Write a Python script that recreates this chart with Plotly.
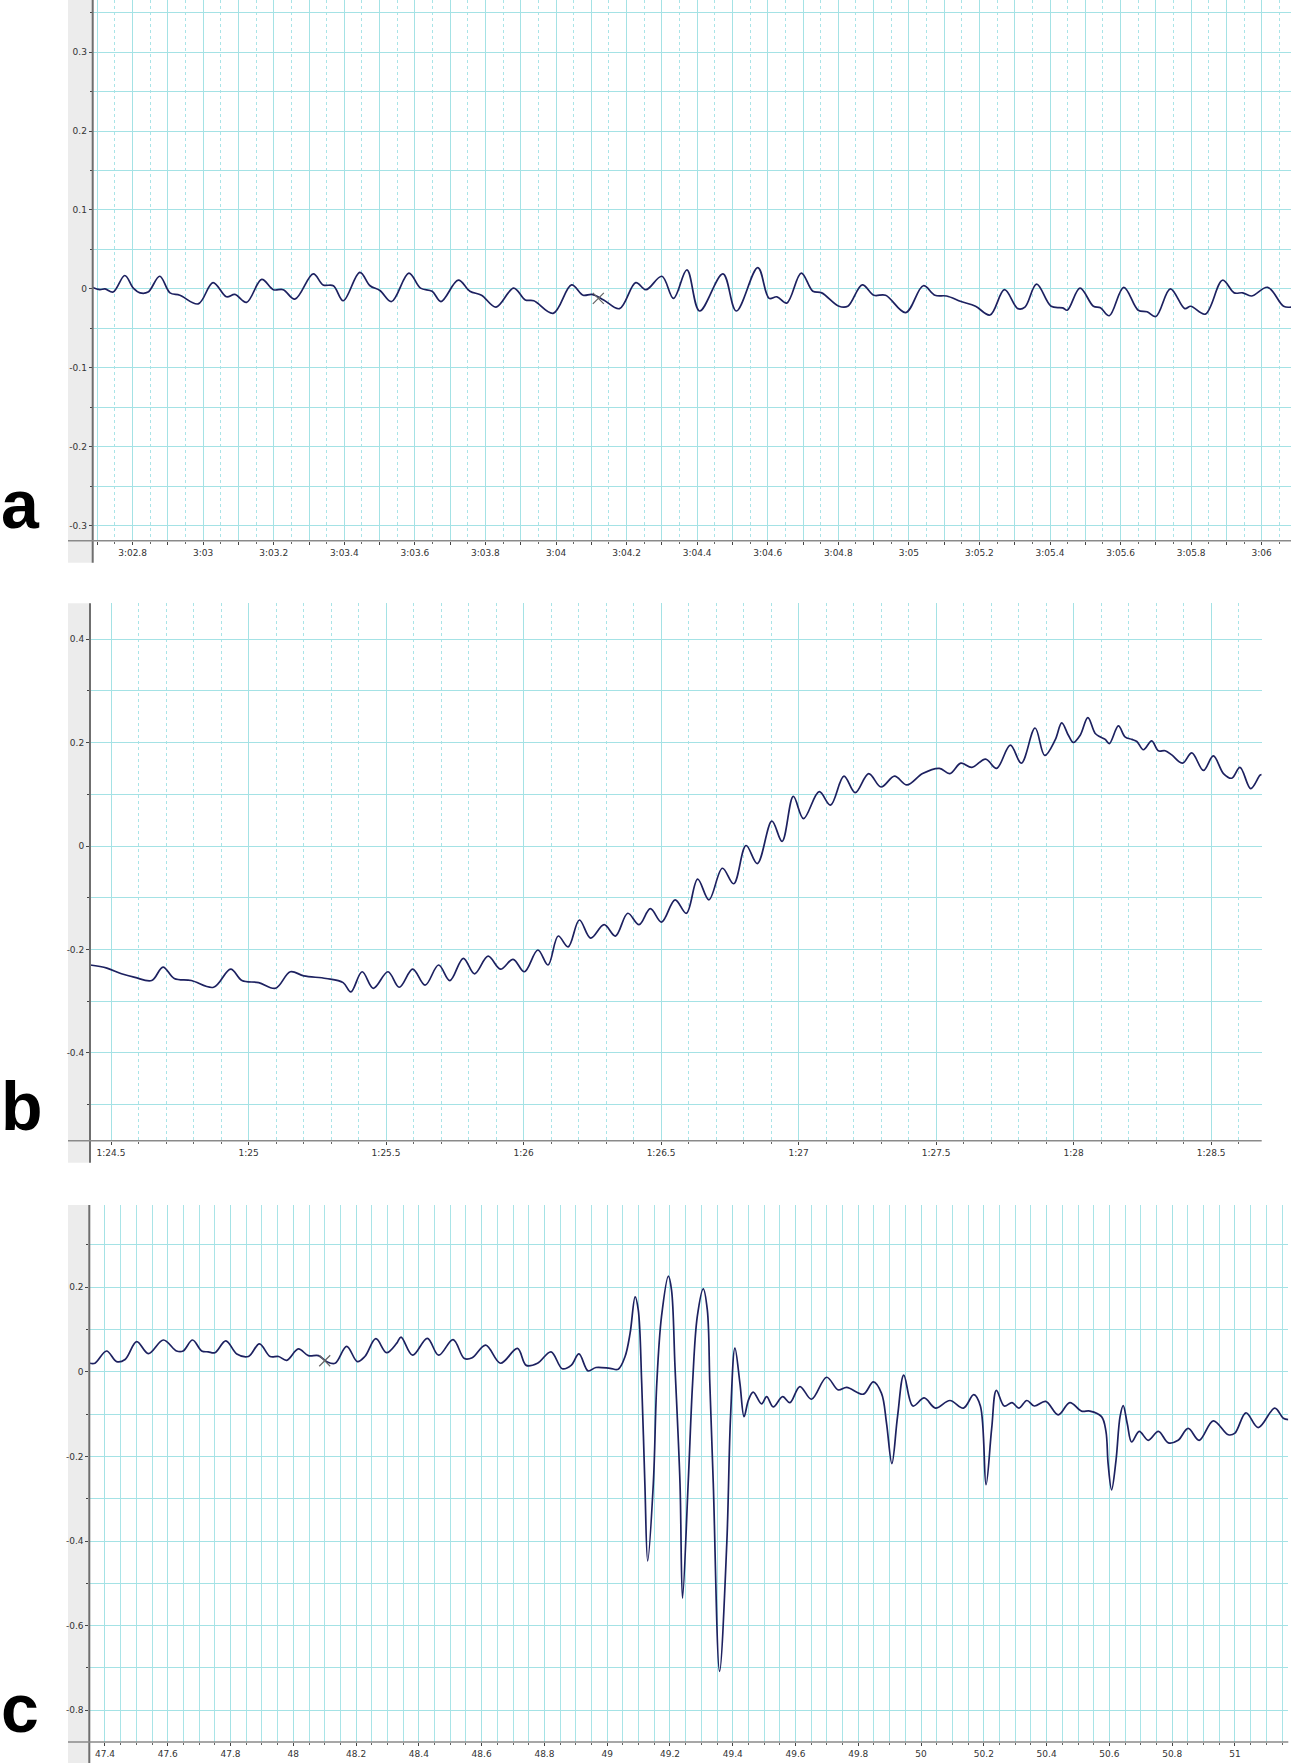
import plotly.graph_objects as go

W, H = 1291, 1763

# ---------------- data (time in seconds, amplitude) ----------------
a_time = [182.686, 182.707, 182.722, 182.745, 182.778, 182.802, 182.821, 182.844, 182.877, 182.906,
          182.934, 182.986, 183.028, 183.066, 183.090, 183.123, 183.166, 183.199, 183.227, 183.260,
          183.312, 183.340, 183.369, 183.397, 183.444, 183.473, 183.501, 183.534, 183.583, 183.616,
          183.649, 183.674, 183.723, 183.756, 183.789, 183.830, 183.880, 183.913, 183.937, 183.992,
          184.044, 184.077, 184.102, 184.135, 184.180, 184.226, 184.255, 184.300, 184.333, 184.371,
          184.407, 184.473, 184.511, 184.572, 184.604, 184.626, 184.654, 184.695, 184.728, 184.753,
          184.802, 184.827, 184.868, 184.901, 184.934, 184.991, 185.041, 185.074, 185.107, 185.148,
          185.189, 185.230, 185.271, 185.309, 185.329, 185.362, 185.403, 185.436, 185.449, 185.485,
          185.523, 185.543, 185.568, 185.609, 185.650, 185.675, 185.700, 185.741, 185.782, 185.799,
          185.840, 185.889, 185.922, 185.946, 185.971, 186.017, 186.062, 186.083]
a_value = [0.002, -0.001, 0.000, -0.004, 0.017, 0.001, -0.005, -0.004, 0.016, -0.005,
           -0.008, -0.019, 0.008, -0.010, -0.007, -0.017, 0.012, -0.001, -0.001, -0.013,
           0.019, 0.005, 0.004, -0.015, 0.021, 0.004, -0.002, -0.016, 0.020, 0.001,
           -0.003, -0.016, 0.011, -0.003, -0.008, -0.023, 0.001, -0.014, -0.015, -0.031,
           0.005, -0.008, -0.007, -0.014, -0.025, 0.008, -0.001, 0.016, -0.012, 0.024,
           -0.028, 0.019, -0.028, 0.027, -0.012, -0.010, -0.018, 0.020, -0.003, -0.005,
           -0.022, -0.022, 0.005, -0.008, -0.008, -0.030, 0.004, -0.008, -0.009, -0.016,
           -0.022, -0.033, -0.001, -0.025, -0.023, 0.006, -0.022, -0.024, -0.027, 0.001,
           -0.022, -0.024, -0.034, 0.002, -0.027, -0.029, -0.035, 0.000, -0.025, -0.022,
           -0.032, 0.011, -0.005, -0.005, -0.009, 0.002, -0.022, -0.023]
a_mark_time = [184.12]
a_mark_value = [-0.012]

b_time = [84.424, 84.485, 84.538, 84.587, 84.648, 84.689, 84.730, 84.792, 84.873, 84.935,
          84.976, 85.037, 85.098, 85.152, 85.201, 85.282, 85.344, 85.372, 85.413, 85.454,
          85.507, 85.548, 85.597, 85.642, 85.691, 85.732, 85.781, 85.822, 85.871, 85.916,
          85.962, 86.003, 86.052, 86.089, 86.126, 86.162, 86.203, 86.244, 86.293, 86.334,
          86.379, 86.420, 86.461, 86.502, 86.551, 86.592, 86.633, 86.674, 86.723, 86.764,
          86.809, 86.850, 86.903, 86.940, 86.981, 87.018, 87.075, 87.116, 87.165, 87.206,
          87.255, 87.300, 87.349, 87.394, 87.451, 87.512, 87.550, 87.590, 87.630, 87.680,
          87.720, 87.770, 87.810, 87.860, 87.895, 87.933, 87.957, 87.981, 87.999, 88.024,
          88.052, 88.078, 88.096, 88.115, 88.130, 88.163, 88.187, 88.212, 88.230, 88.254,
          88.284, 88.308, 88.333, 88.357, 88.396, 88.430, 88.472, 88.508, 88.545, 88.575,
          88.605, 88.644, 88.678, 88.684]
b_value = [-0.230, -0.236, -0.247, -0.254, -0.260, -0.234, -0.256, -0.260, -0.273, -0.238,
           -0.260, -0.264, -0.275, -0.243, -0.251, -0.256, -0.264, -0.282, -0.243, -0.275,
           -0.243, -0.273, -0.238, -0.269, -0.230, -0.260, -0.217, -0.247, -0.213, -0.238,
           -0.219, -0.243, -0.201, -0.230, -0.174, -0.195, -0.143, -0.178, -0.152, -0.174,
           -0.130, -0.152, -0.121, -0.147, -0.104, -0.130, -0.064, -0.104, -0.043, -0.073,
           0.001, -0.034, 0.048, 0.009, 0.096, 0.053, 0.105, 0.079, 0.135, 0.103,
           0.140, 0.114, 0.135, 0.118, 0.140, 0.150, 0.140, 0.160, 0.152, 0.168,
           0.150, 0.195, 0.160, 0.228, 0.175, 0.205, 0.238, 0.214, 0.200, 0.214,
           0.248, 0.218, 0.211, 0.206, 0.198, 0.232, 0.211, 0.206, 0.202, 0.186,
           0.203, 0.184, 0.184, 0.176, 0.160, 0.180, 0.146, 0.174, 0.140, 0.131,
           0.152, 0.111, 0.137, 0.138]

c_time = [47.352, 47.368, 47.405, 47.437, 47.464, 47.501, 47.538, 47.586, 47.628, 47.649,
          47.679, 47.708, 47.729, 47.750, 47.785, 47.820, 47.857, 47.892, 47.926, 47.953,
          47.979, 48.016, 48.048, 48.080, 48.106, 48.133, 48.170, 48.204, 48.228, 48.263,
          48.297, 48.329, 48.343, 48.380, 48.427, 48.463, 48.509, 48.545, 48.570, 48.613,
          48.660, 48.714, 48.742, 48.778, 48.821, 48.857, 48.885, 48.910, 48.939, 48.964,
          49.009, 49.035, 49.057, 49.073, 49.089, 49.099, 49.110, 49.120, 49.129, 49.147,
          49.158, 49.173, 49.195, 49.205, 49.216, 49.232, 49.240, 49.258, 49.272, 49.287,
          49.306, 49.319, 49.327, 49.338, 49.358, 49.381, 49.393, 49.407, 49.423, 49.436,
          49.450, 49.465, 49.492, 49.508, 49.529, 49.559, 49.582, 49.614, 49.651, 49.699,
          49.736, 49.763, 49.816, 49.848, 49.874, 49.890, 49.907, 49.925, 49.945, 49.974,
          50.010, 50.046, 50.092, 50.135, 50.168, 50.189, 50.207, 50.225, 50.240, 50.265,
          50.290, 50.312, 50.337, 50.361, 50.397, 50.437, 50.474, 50.511, 50.538, 50.575,
          50.589, 50.596, 50.607, 50.621, 50.634, 50.644, 50.657, 50.671, 50.695, 50.724,
          50.756, 50.788, 50.819, 50.851, 50.886, 50.931, 50.979, 51.000, 51.035, 51.074,
          51.127, 51.154, 51.170]
c_value = [0.020, 0.020, 0.049, 0.024, 0.029, 0.071, 0.043, 0.075, 0.049, 0.049,
           0.075, 0.049, 0.047, 0.045, 0.073, 0.042, 0.036, 0.066, 0.036, 0.036,
           0.027, 0.054, 0.038, 0.038, 0.024, 0.020, 0.060, 0.024, 0.036, 0.078,
           0.045, 0.067, 0.082, 0.039, 0.079, 0.039, 0.076, 0.031, 0.033, 0.063,
           0.020, 0.055, 0.015, 0.020, 0.047, 0.007, 0.015, 0.042, 0.002, 0.010,
           0.008, 0.006, 0.036, 0.091, 0.177, 0.146, -0.028, -0.264, -0.447, -0.264,
           -0.028, 0.130, 0.226, 0.193, 0.012, -0.264, -0.535, -0.264, -0.028, 0.130,
           0.196, 0.146, -0.028, -0.264, -0.708, -0.406, -0.106, 0.056, -0.028, -0.106,
           -0.067, -0.048, -0.076, -0.059, -0.083, -0.059, -0.073, -0.035, -0.065, -0.013,
           -0.043, -0.037, -0.053, -0.024, -0.051, -0.122, -0.217, -0.106, -0.008, -0.081,
           -0.062, -0.086, -0.068, -0.086, -0.054, -0.081, -0.267, -0.134, -0.044, -0.081,
           -0.073, -0.086, -0.068, -0.081, -0.070, -0.102, -0.073, -0.093, -0.093, -0.106,
           -0.141, -0.218, -0.279, -0.210, -0.106, -0.080, -0.123, -0.166, -0.141, -0.162,
           -0.141, -0.168, -0.162, -0.134, -0.162, -0.116, -0.149, -0.145, -0.097, -0.132,
           -0.086, -0.110, -0.113]
c_mark_time = [48.10]
c_mark_value = [0.026]

# ---------------- tick labels ----------------
a_xtick_vals = [182.7, 182.8, 182.9, 183.0, 183.1, 183.2, 183.3, 183.4, 183.5, 183.6, 183.7,
                183.8, 183.9, 184.0, 184.1, 184.2, 184.3, 184.4, 184.5, 184.6, 184.7, 184.8,
                184.9, 185.0, 185.1, 185.2, 185.3, 185.4, 185.5, 185.6, 185.7, 185.8, 185.9,
                186.0]
a_xtick_text = ["", "3:02.8", "", "3:03", "", "3:03.2", "", "3:03.4", "", "3:03.6", "",
                "3:03.8", "", "3:04", "", "3:04.2", "", "3:04.4", "", "3:04.6", "", "3:04.8",
                "", "3:05", "", "3:05.2", "", "3:05.4", "", "3:05.6", "", "3:05.8", "",
                "3:06"]
a_ytick_vals = [-0.3, -0.2, -0.1, 0, 0.1, 0.2, 0.3]
a_ytick_text = ["-0.3", "-0.2", "-0.1", "0", "0.1", "0.2", "0.3"]

b_xtick_vals = [84.5, 85.0, 85.5, 86.0, 86.5, 87.0, 87.5, 88.0, 88.5]
b_xtick_text = ["1:24.5", "1:25", "1:25.5", "1:26", "1:26.5", "1:27", "1:27.5", "1:28", "1:28.5"]
b_ytick_vals = [-0.4, -0.2, 0, 0.2, 0.4]
b_ytick_text = ["-0.4", "-0.2", "0", "0.2", "0.4"]

c_xtick_vals = [47.4, 47.6, 47.8, 48.0, 48.2, 48.4, 48.6, 48.8, 49.0, 49.2,
                49.4, 49.6, 49.8, 50.0, 50.2, 50.4, 50.6, 50.8, 51.0]
c_xtick_text = ["47.4", "47.6", "47.8", "48", "48.2", "48.4", "48.6", "48.8", "49", "49.2",
                "49.4", "49.6", "49.8", "50", "50.2", "50.4", "50.6", "50.8", "51"]
c_ytick_vals = [-0.8, -0.6, -0.4, -0.2, 0, 0.2]
c_ytick_text = ["-0.8", "-0.6", "-0.4", "-0.2", "0", "0.2"]

# ---------------- styling / layout ----------------
GRID = "#a4e2e5"
GRID_MINOR = "#a9e4e7"
TRACE = "#1d2160"
TICKFONT = dict(family="DejaVu Sans", size=9, color="#333333")
STRIP = "#ececec"


def steps(start, step, n, skip=()):
    vals = [round(start + step * i, 4) for i in range(n)]
    return [v for v in vals if all(abs(v - s) > 1e-6 for s in skip)]


panels = [
    dict(x0=92.7, x1=1291, top=0, bottom=540.7, strip_bottom=562.7,
         xr=[182.687, 186.083], yr=[-0.319, 0.366],
         xt=(a_xtick_vals, a_xtick_text), yt=(a_ytick_vals, a_ytick_text),
         xminor=steps(182.65, 0.1, 35, a_xtick_vals),
         yminor=steps(-0.30, 0.05, 14, a_ytick_vals), xdash="dot"),
    dict(x0=90, x1=1261.7, top=603.3, bottom=1140.7, strip_bottom=1162.7,
         xr=[84.4236, 88.684], yr=[-0.5695, 0.469],
         xt=(b_xtick_vals, b_xtick_text), yt=(b_ytick_vals, b_ytick_text),
         xminor=steps(84.5, 0.1, 43, b_xtick_vals),
         yminor=steps(-0.5, 0.1, 10, b_ytick_vals), xdash="dot"),
    dict(x0=89.3, x1=1288.3, top=1205, bottom=1742, strip_bottom=1763,
         xr=[47.35, 51.17], yr=[-0.875, 0.394],
         xt=(c_xtick_vals, c_xtick_text), yt=(c_ytick_vals, c_ytick_text),
         xminor=steps(47.35, 0.05, 78, c_xtick_vals),
         yminor=steps(-0.8, 0.1, 12, c_ytick_vals), xdash="solid"),
]

series = [
    (a_time, a_value, a_mark_time, a_mark_value),
    (b_time, b_value, None, None),
    (c_time, c_value, c_mark_time, c_mark_value),
]

fig = go.Figure()
layout = dict(
    width=W, height=H, margin=dict(l=0, r=0, t=0, b=0, autoexpand=False),
    paper_bgcolor="white", plot_bgcolor="white", showlegend=False, hovermode=False,
)
shapes = []


def px(x):
    return x / W


def py(y):
    return 1 - y / H


for i, (p, (t, v, mt, mv)) in enumerate(zip(panels, series), start=1):
    xa = "xaxis" if i == 1 else f"xaxis{i}"
    ya = "yaxis" if i == 1 else f"yaxis{i}"
    xref = "x" if i == 1 else f"x{i}"
    yref = "y" if i == 1 else f"y{i}"
    layout[xa] = dict(
        domain=[px(p["x0"]), px(p["x1"])], range=p["xr"], anchor=yref,
        tickmode="array", tickvals=p["xt"][0], ticktext=p["xt"][1],
        ticks="outside", ticklen=3, tickcolor="#444", tickwidth=1,
        tickfont=TICKFONT, showgrid=True, gridcolor=GRID, gridwidth=1,
        zeroline=False, showline=False, fixedrange=True, automargin=False,
        showspikes=False,
        minor=dict(tickmode="array", tickvals=p["xminor"], showgrid=True,
                   gridcolor=GRID_MINOR, gridwidth=1, griddash=p["xdash"],
                   ticks="outside", ticklen=2, tickcolor="#666"),
    )
    layout[ya] = dict(
        domain=[py(p["bottom"]), py(p["top"])], range=p["yr"], anchor=xref,
        tickmode="array", tickvals=p["yt"][0], ticktext=p["yt"][1],
        ticks="outside", ticklen=3, tickcolor="#444", tickwidth=1,
        tickfont=TICKFONT, showgrid=True, gridcolor=GRID, gridwidth=1,
        zeroline=False, showline=False, fixedrange=True, automargin=False,
        showspikes=False,
        minor=dict(tickmode="array", tickvals=p["yminor"], showgrid=True,
                   gridcolor=GRID, gridwidth=1, ticks="outside", ticklen=2,
                   tickcolor="#444"),
    )
    fig.add_trace(go.Scatter(
        x=t, y=v, xaxis=xref, yaxis=yref, mode="lines",
        line=dict(color=TRACE, width=1.7, shape="spline", smoothing=1.0, simplify=False),
        hoverinfo="skip"))
    if mt is not None:
        fig.add_trace(go.Scatter(
            x=mt, y=mv, xaxis=xref, yaxis=yref, mode="markers",
            marker=dict(symbol="x-thin", size=11, line=dict(color="#666", width=1.2)),
            hoverinfo="skip"))
    shapes.append(dict(type="rect", xref="paper", yref="paper", layer="below",
                       x0=px(68), x1=px(p["x0"]), y0=py(p["strip_bottom"]), y1=py(p["top"]),
                       fillcolor=STRIP, line=dict(width=0)))
    shapes.append(dict(type="line", xref="paper", yref="paper", layer="above",
                       x0=px(p["x0"]), x1=px(p["x0"]), y0=py(p["strip_bottom"]), y1=py(p["top"]),
                       line=dict(color="#6f6f6f", width=2)))
    shapes.append(dict(type="line", xref="paper", yref="paper", layer="above",
                       x0=px(68), x1=px(p["x1"]), y0=py(p["bottom"]), y1=py(p["bottom"]),
                       line=dict(color="#8a8a8a", width=1.5)))

letters = [("a", 504), ("b", 1106), ("c", 1708)]
annotations = [dict(text=f"<b>{s}</b>", x=0, y=py(yc), xref="paper", yref="paper",
                    xanchor="left", yanchor="middle", showarrow=False, borderpad=0,
                    font=dict(family="Liberation Sans", size=68, color="black"))
               for s, yc in letters]

layout["shapes"] = shapes
layout["annotations"] = annotations
fig.update_layout(**layout)
fig.write_html("out.html",
               config={"displayModeBar": False, "staticPlot": True},
               post_script="document.body.style.margin='0';document.body.style.padding='0';"
                           "document.body.style.overflow='hidden';")
